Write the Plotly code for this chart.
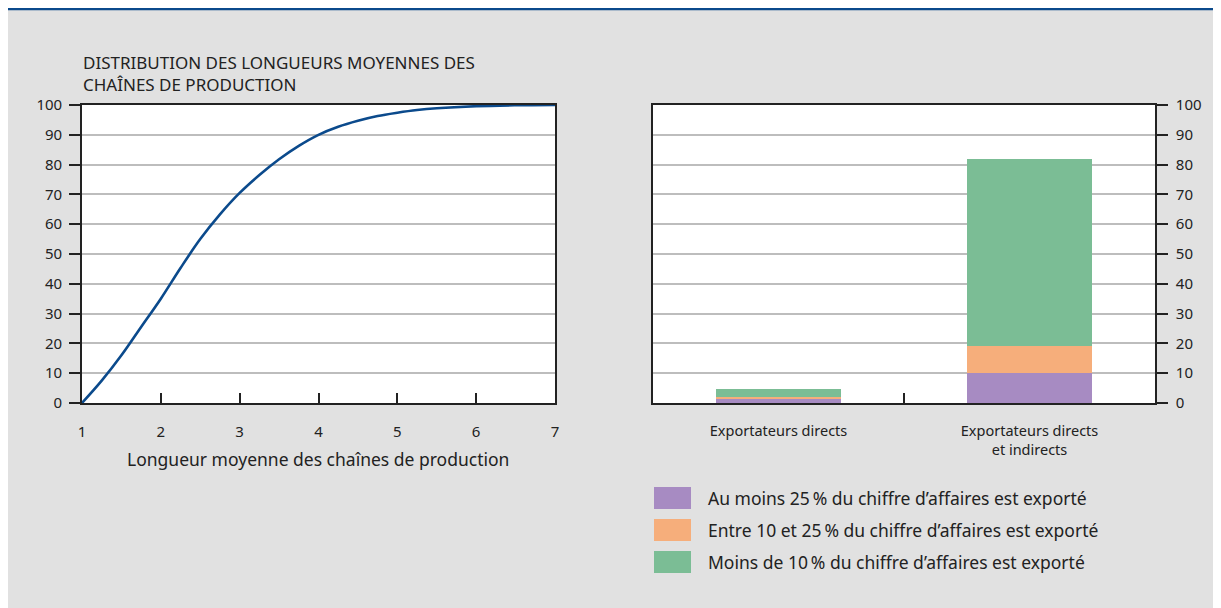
import plotly.graph_objects as go

# left panel: cumulative distribution of average production chain length
longueur = [1.0, 1.25, 1.5, 1.75, 2.0, 2.25, 2.5, 2.75, 3.0, 3.25, 3.5, 3.75,
            4.0, 4.25, 4.5, 4.75, 5.0, 5.25, 5.5, 6.0, 6.5, 7.0]
cumul = [0, 7.5, 16, 25.5, 35, 45.3, 55, 63.3, 70.5, 76.5, 81.8, 86.3,
         90.0, 92.7, 94.7, 96.3, 97.4, 98.3, 98.9, 99.6, 99.9, 100]

# right panel: stacked bars
categories = ['Exportateurs directs', 'Exportateurs directs<br>et indirects']
series_names = ['Au moins 25\u202f% du chiffre d\u2019affaires est exporté',
                'Entre 10 et 25\u202f% du chiffre d\u2019affaires est exporté',
                'Moins de 10\u202f% du chiffre d\u2019affaires est exporté']
au_moins_25 = [1.5, 10]
entre_10_25 = [0.5, 9]
moins_10 = [2.8, 63]
series_values = [au_moins_25, entre_10_25, moins_10]
colors = ['#a78bc2', '#f6ae7b', '#7bbd95']

# page body has an 8px margin; figure sits at (8, 8)
OFF = 8
W, H = 1213, 600
FONT = 'Noto Sans'
TXT = '#222222'
GRID = '#bdbdbd'
LINE = '#222222'


def px(x):
    return (x - OFF) / W


def py(y):
    return 1 - (y - OFF) / H


fig = go.Figure()
fig.add_trace(go.Scatter(x=longueur, y=cumul, mode='lines', line=dict(color='#0b4a8c', width=2.6, shape='spline'),
                         xaxis='x', yaxis='y', showlegend=False, hoverinfo='skip'))
for name, vals, col in zip(series_names, series_values, colors):
    fig.add_trace(go.Bar(x=categories, y=vals, name=name, marker=dict(color=col, line=dict(width=0)), width=0.5,
                         xaxis='x2', yaxis='y2', showlegend=False))

ydom = [py(403), py(105)]
axis_common = dict(showline=True, mirror=True, linecolor=LINE, linewidth=1.6, zeroline=False, automargin=False,
                   tickfont=dict(family=FONT, size=15, color=TXT), tickcolor=LINE, tickwidth=1.5)
fig.update_layout(
    width=W, height=H, margin=dict(l=0, r=0, t=0, b=0, autoexpand=False),
    paper_bgcolor='#e1e1e1', plot_bgcolor='white', barmode='stack', bargap=0,
    font=dict(family=FONT, color=TXT),
    xaxis=dict(domain=[px(82), px(555)], range=[1, 7], tickvals=[1, 2, 3, 4, 5, 6, 7], ticks='inside',
               ticklen=10, showgrid=False, ticklabelstandoff=14, anchor='y', **axis_common),
    yaxis=dict(domain=ydom, range=[0, 100], tickvals=list(range(0, 101, 10)), ticks='outside', ticklen=11,
               showgrid=True, gridcolor=GRID, gridwidth=1.6, anchor='x', ticklabelstandoff=4, **axis_common),
    xaxis2=dict(domain=[px(653), px(1155)], type='category', range=[-0.5, 1.5], ticks='inside',
                tickson='boundaries', ticklen=10, showgrid=False, anchor='y2', ticklabelstandoff=14,
                **axis_common),
    yaxis2=dict(domain=ydom, range=[0, 100], tickvals=list(range(0, 101, 10)), ticks='outside', ticklen=11,
                side='right', showgrid=True, gridcolor=GRID, gridwidth=1.6, anchor='x2', ticklabelstandoff=5,
                **axis_common),
)
fig.update_xaxes(tickfont_size=14.5, selector=dict(anchor='y2'))

shapes = [
    dict(type='line', xref='paper', yref='paper', x0=0, x1=1, y0=py(9), y1=py(9),
         line=dict(color='#0b4a8c', width=2.5)),
]
annotations = [
    dict(text='DISTRIBUTION DES LONGUEURS MOYENNES DES<br>CHAÎNES DE PRODUCTION', xref='paper', yref='paper',
         x=px(81), y=py(49), xanchor='left', yanchor='top', align='left', showarrow=False,
         font=dict(family=FONT, size=17, color=TXT)),
    dict(text='Longueur moyenne des chaînes de production', xref='paper', yref='paper',
         x=px(318), y=py(459), xanchor='center', yanchor='middle', showarrow=False,
         font=dict(family=FONT, size=17.5, color=TXT)),
]
for i, (name, col) in enumerate(zip(series_names, colors)):
    yc = 498 + 32 * i
    shapes.append(dict(type='rect', xref='paper', yref='paper', x0=px(654), x1=px(691), y0=py(yc - 11),
                       y1=py(yc + 11), fillcolor=col, line=dict(width=0)))
    annotations.append(dict(text=name, xref='paper', yref='paper', x=px(706), y=py(yc), xanchor='left',
                            yanchor='middle', showarrow=False, font=dict(family=FONT, size=17.5, color=TXT)))
fig.update_layout(shapes=shapes, annotations=annotations)

fig.write_html('out.html')
